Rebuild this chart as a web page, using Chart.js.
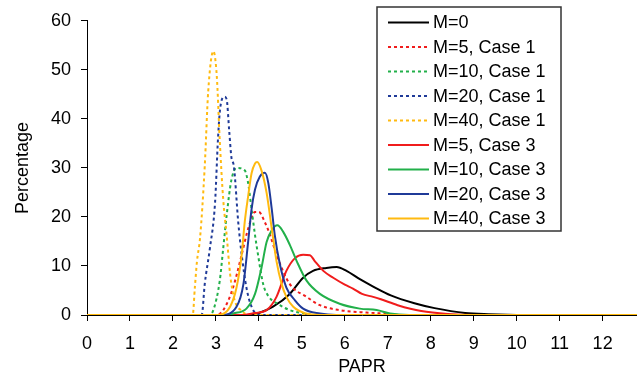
<!DOCTYPE html>
<html>
<head>
<meta charset="utf-8">
<script src="https://cdn.jsdelivr.net/npm/chart.js@4/dist/chart.umd.min.js"></script>
<style>
  html, body { margin: 0; padding: 0; background: #fff; }
  #wrap { width: 637px; height: 382px; }
</style>
</head>
<body>
<div id="wrap"><canvas id="chart" width="637" height="382"></canvas></div>
<script>
// PAPR distributions, points as [PAPR, percentage]
const labels = ['M=0', 'M=5, Case 1', 'M=10, Case 1', 'M=20, Case 1', 'M=40, Case 1',
  'M=5, Case 3', 'M=10, Case 3', 'M=20, Case 3', 'M=40, Case 3'];

const m0 = [[0,0],[3.8,0],[4.0,0.4],[4.33,1.7],[4.72,4.3],[5.03,7.6],[5.26,9],[5.57,9.6],[5.81,9.8],
  [6.04,9],[6.35,7.3],[6.66,5.8],[7.07,4.0],[7.62,2.4],[8.09,1.4],[8.8,0.4],[9.34,0.15],[10.2,0],[12.8,0]];
const m5c1 = [[0,0],[3.0,0],[3.17,1],[3.4,5.6],[3.6,12.3],[3.75,17.6],[3.91,21],[4.0,21],[4.14,18.9],
  [4.26,16.3],[4.41,12.3],[4.72,6.3],[5.11,3.7],[5.42,2],[5.88,1],[6.5,0.5],[6.9,0.3],[7.3,0],[12.8,0]];
const m10c1 = [[0,0],[2.85,0],[2.94,1],[3.09,7],[3.17,13.6],[3.25,20.3],[3.36,27.5],[3.48,30],[3.67,29.5],
  [3.75,26.9],[3.83,21.6],[3.91,16.3],[3.98,12.3],[4.1,6.3],[4.21,4],[4.49,2],[4.72,1],[5.0,0.4],[5.3,0],[12.8,0]];
const m20c1 = [[0,0],[2.67,0],[2.74,6.3],[2.86,13.6],[2.98,22.9],[3.05,36.2],[3.1,42.2],[3.2,44.5],[3.25,44],
  [3.31,37.5],[3.36,32.2],[3.42,30.2],[3.52,18.9],[3.6,12.3],[3.71,5.6],[3.83,1.7],[4.0,0],[12.8,0]];
const m40c1 = [[0,0],[2.46,0],[2.51,5.6],[2.56,11],[2.63,15.6],[2.74,30.3],[2.82,45.5],[2.94,53.8],[3.02,48.8],
  [3.09,35.5],[3.17,23.6],[3.25,16.3],[3.33,8.4],[3.42,3.5],[3.6,0.8],[3.8,0],[12.8,0]];
const m5c3 = [[0,0],[3.6,0],[3.9,0.4],[4.18,1],[4.41,3.7],[4.64,9],[4.84,11.6],[5.03,12.3],[5.19,12.2],
  [5.3,11],[5.5,9],[5.73,7.6],[6.0,6.2],[6.19,5.4],[6.4,4.3],[6.66,3.7],[6.84,3.2],[7.23,2],[7.78,0.8],
  [8.4,0.2],[9.0,0],[12.8,0]];
const m10c3 = [[0,0],[3.3,0],[3.4,0.3],[3.71,1.3],[3.91,4.3],[4.06,9.6],[4.18,14.9],[4.3,17.3],[4.43,18.3],
  [4.57,16.9],[4.72,14.3],[4.88,11],[5.11,7],[5.42,4.3],[5.88,2.3],[6.35,1.3],[6.74,1.0],[7.05,0.3],[7.5,0],[12.8,0]];
const m20c3 = [[0,0],[3.12,0],[3.48,1.7],[3.64,6.3],[3.75,14.9],[3.83,21.6],[3.91,25.6],[4.02,28.2],[4.14,29],
  [4.22,26.9],[4.3,21.6],[4.37,16.3],[4.49,10.3],[4.64,5.6],[4.84,3],[5.03,1.3],[5.42,0.3],[5.8,0],[12.8,0]];
const m40c3 = [[0,0],[3.05,0],[3.33,1.7],[3.48,5.6],[3.6,12.3],[3.67,18.9],[3.75,24.2],[3.83,28.9],[3.91,30.9],
  [3.96,31.2],[4.06,29.5],[4.18,24.9],[4.3,17.6],[4.41,11],[4.53,6.3],[4.64,3.7],[4.8,1.7],[5.1,0.3],[5.4,0],[12.8,0]];

const series = [m0, m5c1, m10c1, m20c1, m40c1, m5c3, m10c3, m20c3, m40c3];
const colors = ['#000000', '#f01c1c', '#22b04a', '#1f3a98', '#ffba10', '#f01c1c', '#22b04a', '#1f3a98', '#ffba10'];
const dashed = [false, true, true, true, true, false, false, false, false];

const FONT = "'Liberation Sans', Arial, sans-serif";

/** Legenda desenhada dentro da área do gráfico */
const boxLegend = {
  id: 'boxLegend',
  afterDraw(chart) {
    const ctx = chart.ctx;
    const x = 377, y = 7, w = 184, h = 224;
    ctx.save();
    ctx.fillStyle = '#fff';
    ctx.fillRect(x, y, w, h);
    ctx.strokeStyle = '#333';
    ctx.lineWidth = 1.5;
    ctx.strokeRect(x, y, w, h);
    ctx.font = '18px ' + FONT;
    ctx.textBaseline = 'middle';
    chart.data.datasets.forEach((ds, i) => {
      const cy = y + 15.5 + i * 24.5;
      ctx.beginPath();
      ctx.strokeStyle = ds.borderColor;
      ctx.lineWidth = 2;
      ctx.setLineDash(ds.borderDash || []);
      ctx.moveTo(388, cy);
      ctx.lineTo(429, cy);
      ctx.stroke();
      ctx.setLineDash([]);
      ctx.fillStyle = '#000';
      ctx.fillText(ds.label, 433, cy + 1);
    });
    ctx.restore();
  }
};

new Chart(document.getElementById('chart'), {
  type: 'line',
  data: {
    datasets: series.map((pts, i) => ({
      label: labels[i],
      data: pts.map(p => ({ x: p[0], y: p[1] })),
      borderColor: colors[i],
      borderWidth: 2,
      borderDash: dashed[i] ? [3, 3] : [],
      pointRadius: 0,
      cubicInterpolationMode: 'monotone',
      fill: false,
      order: series.length - i
    }))
  },
  options: {
    responsive: false,
    animation: false,
    layout: { padding: { top: 13, right: 0, left: 0, bottom: 0 } },
    plugins: { legend: { display: false }, tooltip: { enabled: false } },
    scales: {
      x: {
        type: 'linear',
        min: 0,
        max: 12.8,
        afterFit: s => { s.height = 67; },
        border: { color: '#000', width: 1 },
        grid: { drawOnChartArea: false, color: '#000', tickLength: 6 },
        ticks: { stepSize: 1, includeBounds: false, color: '#000', padding: 12, font: { family: FONT, size: 18 } },
        title: { display: true, text: 'PAPR', color: '#000', padding: { top: 10 }, font: { family: FONT, size: 18 } }
      },
      y: {
        min: 0,
        max: 60,
        afterFit: s => { s.width = 87; },
        border: { color: '#000', width: 1 },
        grid: { drawOnChartArea: false, color: '#000', tickLength: 6 },
        ticks: { stepSize: 10, color: '#000', padding: 10, font: { family: FONT, size: 18 } },
        title: { display: true, text: 'Percentage', color: '#000', padding: { top: 12, bottom: 4 }, font: { family: FONT, size: 18 } }
      }
    }
  },
  plugins: [boxLegend]
});
</script>
</body>
</html>
